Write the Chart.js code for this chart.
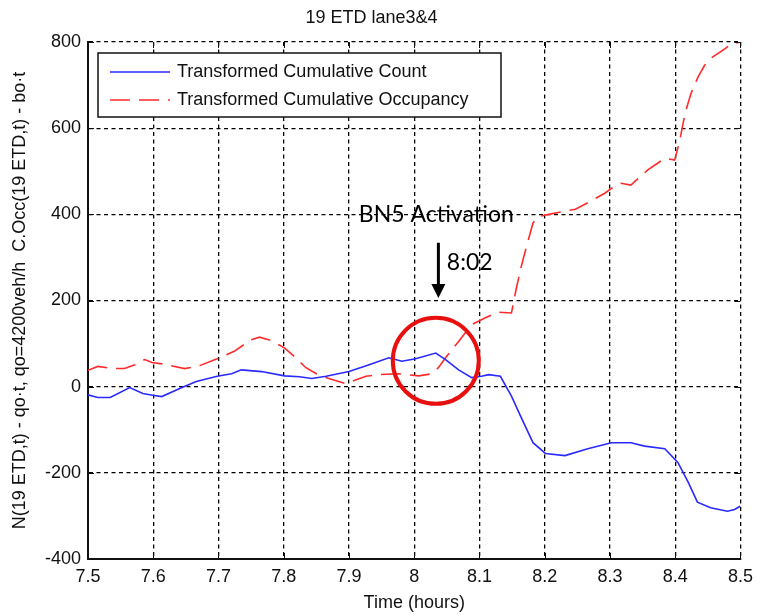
<!DOCTYPE html>
<html>
<head>
<meta charset="utf-8">
<script src="https://cdn.jsdelivr.net/npm/chart.js@4.4.1/dist/chart.umd.min.js"></script>
<style>
  html, body { margin: 0; padding: 0; background: #fff; }
  #wrap { width: 760px; height: 616px; }
</style>
</head>
<body>
<div id="wrap"><canvas id="chart" width="760" height="616"></canvas></div>
<script>
// values (time in hours)
const countTimes = [7.500, 7.515, 7.534, 7.564, 7.584, 7.599, 7.613, 7.644, 7.666, 7.698,
  7.720, 7.735, 7.766, 7.801, 7.824, 7.843, 7.865, 7.900, 7.931, 7.961,
  7.981, 8.002, 8.033, 8.048, 8.068, 8.088, 8.103, 8.114, 8.132, 8.149,
  8.164, 8.182, 8.201, 8.231, 8.266, 8.302, 8.332, 8.353, 8.384, 8.404,
  8.420, 8.434, 8.454, 8.480, 8.491, 8.500]
const countValues = [-19, -25, -25, -2, -16, -20, -23, -2, 12, 24,
  30, 39, 35, 25, 23, 19, 24, 35, 51, 67,
  59, 65, 78, 63, 39, 21, 24, 28, 24, -22,
  -72, -130, -155, -160, -144, -130, -130, -138, -144, -176,
  -222, -268, -281, -289, -285, -277]

const occTimes = [7.500, 7.515, 7.537, 7.556, 7.572, 7.587, 7.598, 7.613, 7.648, 7.668,
  7.698, 7.724, 7.750, 7.763, 7.781, 7.801, 7.816, 7.834, 7.850, 7.869,
  7.895, 7.911, 7.926, 7.946, 7.976, 8.007, 8.027, 8.037, 8.048, 8.068,
  8.088, 8.109, 8.129, 8.149, 8.156, 8.164, 8.172, 8.182, 8.190, 8.210,
  8.247, 8.266, 8.292, 8.302, 8.317, 8.332, 8.358, 8.384, 8.399, 8.402,
  8.407, 8.415, 8.424, 8.435, 8.445, 8.457, 8.476, 8.485, 8.500]
const occValues = [38, 47, 42, 42, 51, 63, 56, 53, 42, 47,
  65, 82, 109, 115, 107, 90, 70, 44, 30, 19,
  7, 16, 24, 28, 30, 25, 30, 44, 67, 105,
  144, 160, 173, 171, 225, 279, 325, 380, 395, 401,
  412, 427, 449, 460, 472, 468, 503, 530, 526, 542,
  572, 634, 680, 719, 746, 765, 784, 795, 800]

const xTicks = [7.5, 7.6, 7.7, 7.8, 7.9, 8, 8.1, 8.2, 8.3, 8.4, 8.5]
const yTicks = [-400, -200, 0, 200, 400, 600, 800]

const seriesNames = ['Transformed Cumulative Count', 'Transformed Cumulative Occupancy']

// annotation anchor (data coords)
const activation = {t: 8.033, v: 60}

const FONT = 'Liberation Sans, Arial, sans-serif'
const INK = '#111'

function pairs(xs, ys) {
  return xs.map((x, i) => ({x: x, y: ys[i]}))
}

const matlabBits = {
  id: 'matlabBits',
  afterDatasetsDraw(chart) {
    const ctx = chart.ctx
    const a = chart.chartArea
    const xs = chart.scales.x, ys = chart.scales.y
    ctx.save()

    // inward ticks like MATLAB
    ctx.strokeStyle = INK
    ctx.lineWidth = 1
    xTicks.forEach((t) => {
      const px = Math.round(xs.getPixelForValue(t)) + 0.5
      ctx.beginPath()
      ctx.moveTo(px, a.top); ctx.lineTo(px, a.top + 6)
      ctx.moveTo(px, a.bottom); ctx.lineTo(px, a.bottom - 6)
      ctx.stroke()
    })
    yTicks.forEach((v) => {
      const py = Math.round(ys.getPixelForValue(v)) + 0.5
      ctx.beginPath()
      ctx.moveTo(a.left, py); ctx.lineTo(a.left + 6, py)
      ctx.moveTo(a.right, py); ctx.lineTo(a.right - 6, py)
      ctx.stroke()
    })

    // legend box
    const lx = a.left + 10, ly = a.top + 11, lw = 403, lh = 64
    ctx.fillStyle = '#fff'
    ctx.fillRect(lx, ly, lw, lh)
    ctx.strokeStyle = INK
    ctx.lineWidth = 1.5
    ctx.strokeRect(lx, ly, lw, lh)
    ctx.font = '18px ' + FONT
    ctx.textBaseline = 'middle'
    chart.data.datasets.forEach((ds, i) => {
      const yy = ly + 19 + i * 28
      ctx.strokeStyle = ds.borderColor
      ctx.lineWidth = 1.5
      ctx.setLineDash(ds.borderDash || [])
      ctx.beginPath()
      ctx.moveTo(lx + 12, yy); ctx.lineTo(lx + 72, yy)
      ctx.stroke()
      ctx.setLineDash([])
      ctx.fillStyle = INK
      ctx.fillText(ds.label, lx + 79, yy)
    })

    // activation annotation
    const cx = xs.getPixelForValue(activation.t)
    const cy = ys.getPixelForValue(activation.v)
    ctx.strokeStyle = '#e8100f'
    ctx.lineWidth = 4
    ctx.beginPath()
    ctx.arc(cx, cy, 43, 0, Math.PI * 2)
    ctx.stroke()

    const ax = xs.getPixelForValue(8.037)
    const aTop = ys.getPixelForValue(334), aTip = ys.getPixelForValue(206)
    ctx.strokeStyle = '#000'
    ctx.fillStyle = '#000'
    ctx.lineWidth = 3
    ctx.beginPath()
    ctx.moveTo(ax, aTop); ctx.lineTo(ax, aTip - 10)
    ctx.stroke()
    ctx.beginPath()
    ctx.moveTo(ax, aTip); ctx.lineTo(ax - 7, aTip - 14); ctx.lineTo(ax + 7, aTip - 14)
    ctx.closePath()
    ctx.fill()

    ctx.font = '23px Lato, "Open Sans", sans-serif'
    ctx.textBaseline = 'middle'
    ctx.textAlign = 'left'
    ctx.fillText('BN5 Activation', xs.getPixelForValue(7.915), ys.getPixelForValue(400))
    ctx.fillText('8:02', xs.getPixelForValue(8.05), ys.getPixelForValue(287))
    ctx.restore()
  }
}

const ctx = document.getElementById('chart').getContext('2d')
new Chart(ctx, {
  type: 'line',
  data: {
    datasets: [{
      label: seriesNames[0],
      data: pairs(countTimes, countValues),
      borderColor: '#2a2aff',
      borderWidth: 1.6,
      pointRadius: 0,
      tension: 0,
    }, {
      label: seriesNames[1],
      data: pairs(occTimes, occValues),
      borderColor: '#ff2b2b',
      borderWidth: 1.6,
      borderDash: [20, 9],
      pointRadius: 0,
      tension: 0,
    }]
  },
  options: {
    responsive: false,
    animation: false,
    layout: {padding: {left: 0, right: 17, top: 0, bottom: 0}},
    plugins: {
      legend: {display: false},
      tooltip: {enabled: false},
      title: {
        display: true,
        text: '19 ETD lane3&4',
        color: INK,
        font: {family: FONT, size: 18, weight: 'normal'},
        padding: {top: 7, bottom: 13.4}
      }
    },
    scales: {
      x: {
        type: 'linear',
        min: 7.5,
        max: 8.5,
        afterBuildTicks: (s) => { s.ticks = xTicks.map((v) => ({value: v})) },
        afterFit: (s) => { s.height = 57 },
        ticks: {
          color: INK,
          font: {family: FONT, size: 18},
          padding: 7,
          maxRotation: 0,
          callback: (v) => String(Number(v.toFixed(1)))
        },
        grid: {color: '#000', lineWidth: 1.3, drawTicks: false},
        border: {display: true, color: '#111', width: 2, dash: [4, 3.5]},
        title: {
          display: true,
          text: 'Time (hours)',
          color: INK,
          font: {family: FONT, size: 18},
          padding: {top: 0, bottom: 2}
        }
      },
      y: {
        min: -400,
        max: 800,
        afterBuildTicks: (s) => { s.ticks = yTicks.map((v) => ({value: v})) },
        afterFit: (s) => { s.width = 88 },
        ticks: {
          color: INK,
          font: {family: FONT, size: 18},
          padding: 7
        },
        grid: {color: '#000', lineWidth: 1.3, drawTicks: false},
        border: {display: true, color: '#111', width: 2, dash: [4, 3.5]},
        title: {
          display: true,
          text: 'N(19 ETD,t) - qo\u00b7t, qo=4200veh/h  C.Occ(19 ETD,t) - bo\u00b7t',
          color: INK,
          font: {family: FONT, size: 18},
          padding: {top: 9, bottom: 0}
        }
      }
    }
  },
  plugins: [matlabBits]
})
</script>
</body>
</html>
